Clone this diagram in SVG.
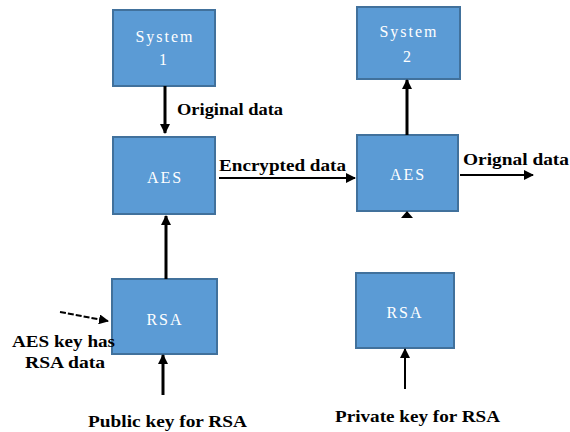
<svg xmlns="http://www.w3.org/2000/svg" width="570" height="432" viewBox="0 0 570 432">
  <style>
    .box { fill: #5B9BD5; stroke: #41719C; stroke-width: 2; }
    .btxt { font-size: 16px; fill: #ffffff; text-anchor: middle; letter-spacing: 2px; }
    .lbl { font-size: 17px; font-weight: bold; fill: #000000; }
    .thick { stroke: #000; stroke-width: 3; fill: none; }
    .thin { stroke: #000; stroke-width: 2; fill: none; }
  </style>
  <defs>
    <marker id="head" viewBox="0 0 10 10" refX="9" refY="5" markerWidth="3.5" markerHeight="3.5" orient="auto" markerUnits="strokeWidth">
      <path d="M0,0 L10,5 L0,10 z" fill="#000"/>
    </marker>
    <marker id="headThin" viewBox="0 0 10 10" refX="9" refY="5" markerWidth="5" markerHeight="5" orient="auto" markerUnits="strokeWidth">
      <path d="M0,0 L10,5 L0,10 z" fill="#000"/>
    </marker>
  </defs>

  <rect width="570" height="432" fill="#ffffff"/>

  <g font-family="Liberation Serif, Tinos, DejaVu Serif, serif">
  <g id="system1">
    <rect class="box" x="113" y="10" width="102" height="76"/>
    <text class="btxt" x="165" y="42">System</text>
    <text class="btxt" x="164" y="65">1</text>
  </g>
  <g id="aes1">
    <rect class="box" x="113" y="137" width="102" height="77"/>
    <text class="btxt" x="165" y="183">AES</text>
  </g>
  <g id="rsa1">
    <rect class="box" x="112" y="279" width="105" height="75"/>
    <text class="btxt" x="165" y="325">RSA</text>
  </g>
  <g id="system2">
    <rect class="box" x="357" y="7" width="103" height="72"/>
    <text class="btxt" x="409" y="37">System</text>
    <text class="btxt" x="408" y="62">2</text>
  </g>
  <g id="aes2">
    <rect class="box" x="357" y="135" width="101" height="76"/>
    <text class="btxt" x="408" y="180">AES</text>
  </g>
  <g id="rsa2">
    <rect class="box" x="356" y="273" width="98" height="75"/>
    <text class="btxt" x="405" y="318">RSA</text>
  </g>

  <g id="connectors">
    <line class="thick" x1="165" y1="86" x2="165" y2="133" marker-end="url(#head)"/>
    <line class="thin" x1="219" y1="178" x2="355" y2="178" marker-end="url(#headThin)"/>
    <line class="thick" x1="407" y1="135" x2="407" y2="80" marker-end="url(#head)"/>
    <line class="thin" x1="460" y1="175" x2="533" y2="175" marker-end="url(#headThin)"/>
    <path d="M401,218 L407,211 L413,218 z" fill="#000"/>
    <line class="thick" x1="166" y1="279" x2="166" y2="216" marker-end="url(#head)"/>
    <line class="thin" x1="60" y1="312" x2="108" y2="321" stroke-dasharray="6,2" marker-end="url(#headThin)"/>
    <line class="thick" x1="163" y1="395" x2="163" y2="355" marker-end="url(#head)"/>
    <line class="thin" x1="405" y1="389" x2="405" y2="349" marker-end="url(#headThin)"/>
  </g>

  <g id="labels">
    <text class="lbl" x="177" y="115" textLength="106" lengthAdjust="spacingAndGlyphs">Original data</text>
    <text class="lbl" x="219" y="171" textLength="127" lengthAdjust="spacingAndGlyphs">Encrypted data</text>
    <text class="lbl" x="463" y="165" textLength="106" lengthAdjust="spacingAndGlyphs">Orignal data</text>
    <text class="lbl" x="12" y="347" textLength="103" lengthAdjust="spacingAndGlyphs">AES key has</text>
    <text class="lbl" x="25" y="368" textLength="80" lengthAdjust="spacingAndGlyphs">RSA data</text>
    <text class="lbl" x="88" y="427" textLength="159" lengthAdjust="spacingAndGlyphs">Public key for RSA</text>
    <text class="lbl" x="335" y="422" textLength="165" lengthAdjust="spacingAndGlyphs">Private key for RSA</text>
  </g>
  </g>
</svg>
